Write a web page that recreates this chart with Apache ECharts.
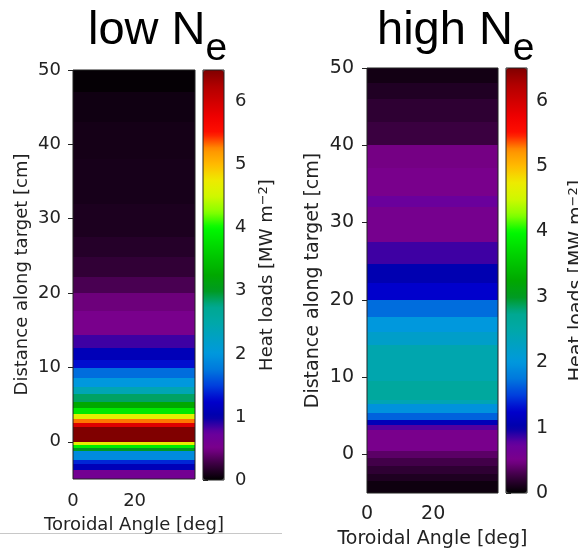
<!DOCTYPE html>
<html>
<head>
<meta charset="utf-8">
<script src="https://cdn.jsdelivr.net/npm/echarts@6/dist/echarts.min.js"></script>
<style>
  html, body { margin: 0; padding: 0; background: #fff; }
  #chart { width: 578px; height: 549px; }
</style>
</head>
<body>
<div id="chart"></div>
<script>
// toroidal angle bins [deg]
const angleEdges = [0, 39.6];

// low Ne: row edges along target [cm] (top -> bottom) and heat load per row [MW m^-2]
const lowEdges = [50, 47, 43, 38, 32, 27.6, 24.8, 22.2, 20, 17.6, 14.4, 12.6, 11.0, 9.9, 8.6, 7.4, 6.4, 5.4, 4.6, 3.8, 3.1, 2.5, 2.0, 0.0, -0.4, -0.8, -1.2, -2.4, -3.0, -3.8, -5];
const lowLoads = [0.02, 0.07, 0.09, 0.10, 0.12, 0.16, 0.21, 0.31, 0.45, 0.52, 0.85, 1.1, 1.3, 1.7, 2.0, 2.4, 2.85, 3.25, 3.85, 4.65, 5.3, 5.9, 6.5, 4.7, 3.9, 3.0, 1.9, 1.4, 1.1, 0.6];

// high Ne
const highEdges = [50, 48, 46, 43, 40, 37, 33.5, 32, 27.5, 24.6, 22.2, 20, 17.8, 15.9, 14.2, 9.5, 7.0, 6.5, 5.3, 4.5, 3.8, 3.2, 0.4, -0.5, -1.5, -2.5, -3.5, -5];
const highLoads = [0.08, 0.14, 0.2, 0.25, 0.48, 0.52, 0.72, 0.55, 0.85, 1.05, 1.25, 1.7, 2.0, 2.2, 2.45, 2.6, 2.4, 1.95, 1.65, 1.1, 0.8, 0.52, 0.38, 0.28, 0.2, 0.13, 0.06];

const distTicks = [0, 10, 20, 30, 40, 50];
const angleTicks = [0, 20];
const loadTicks = [0, 1, 2, 3, 4, 5, 6];

// colormap, evenly spaced from 0 to 6.5
const cmap = ['#000000', '#3a0040', '#7a008a', '#68009e', '#0000aa', '#0000cc', '#0040dd', '#0078dd',
  '#0098dd', '#00a0c4', '#00a8a8', '#00a890', '#009a20', '#00a800', '#00c200', '#00dd00', '#00fa00',
  '#88ff00', '#d0f800', '#eeea00', '#ffbb00', '#ff9000', '#ff1000', '#f00000', '#d00000', '#b00000', '#800000'];

function buildCells(edges, loads) {
  const cells = [];
  for (let i = 0; i < loads.length; i++) {
    for (let j = 0; j < angleEdges.length - 1; j++) {
      cells.push([angleEdges[j], angleEdges[j + 1], edges[i + 1], edges[i], loads[i]]);
    }
  }
  return cells;
}

function renderCell(params, api) {
  const p0 = api.coord([api.value(0), api.value(3)]);
  const p1 = api.coord([api.value(1), api.value(2)]);
  const x0 = Math.round(p0[0]), y0 = Math.round(p0[1]);
  const x1 = Math.round(p1[0]), y1 = Math.round(p1[1]);
  return {
    type: 'rect',
    shape: { x: x0, y: y0, width: x1 - x0, height: y1 - y0 },
    style: { fill: api.visual('color') }
  };
}

const font = 'DejaVu Sans';
const ink = '#222';

function plotX(gi, size, margin, gap) {
  return {
    gridIndex: gi, type: 'value', min: 0, max: angleEdges[angleEdges.length - 1],
    name: 'Toroidal Angle [deg]', nameLocation: 'middle', nameGap: gap,
    nameTextStyle: { fontFamily: font, fontSize: size, color: ink },
    axisLine: { show: false },
    axisTick: { show: true, inside: false, length: 5, customValues: angleTicks, lineStyle: { color: ink } },
    axisLabel: { customValues: angleTicks, margin: margin, fontFamily: font, fontSize: size, color: ink },
    splitLine: { show: false }
  };
}
function plotY(gi, size, margin, gap) {
  return {
    gridIndex: gi, type: 'value', min: -5, max: 50,
    name: 'Distance along target [cm]', nameLocation: 'middle', nameGap: gap, nameRotate: 90,
    nameTextStyle: { fontFamily: font, fontSize: size, color: ink },
    axisLine: { show: false },
    axisTick: { show: true, inside: false, length: 5, customValues: distTicks, lineStyle: { color: ink } },
    axisLabel: { customValues: distTicks, margin: margin, fontFamily: font, fontSize: size, color: ink },
    splitLine: { show: false }
  };
}
function barX(gi) {
  return { gridIndex: gi, type: 'value', min: 0, max: 1, show: false };
}
function barY(gi, size, margin, gap) {
  return {
    gridIndex: gi, type: 'value', min: 0, max: 6.5, position: 'right',
    name: 'Heat loads [MW m{sup|\u22122}]', nameLocation: 'middle', nameGap: gap, nameRotate: 90,
    nameTextStyle: {
      fontFamily: font, fontSize: size, color: ink,
      rich: { sup: { fontFamily: font, fontSize: Math.round(size * 0.7), color: ink, verticalAlign: 'top', padding: [0, 0, 7, 0] } }
    },
    axisLine: { show: false },
    axisTick: { show: true, inside: false, length: 5, customValues: loadTicks, lineStyle: { color: ink } },
    axisLabel: { customValues: loadTicks, margin: margin, fontFamily: font, fontSize: size, color: ink },
    splitLine: { show: false }
  };
}

const titleRich = {
  m: { fontFamily: 'Liberation Sans', fontSize: 47, fontWeight: 'normal', color: '#000', verticalAlign: 'top' },
  s: { fontFamily: 'Liberation Sans', fontSize: 39, fontWeight: 'normal', color: '#000', verticalAlign: 'top', padding: [22, 0, 0, 0] }
};

const frame = { show: true, borderColor: ink, borderWidth: 1, backgroundColor: 'transparent', z: 5, outerBoundsMode: 'none' };

const option = {
  animation: false,
  title: [
    { text: '{m|low N}{s|e}', left: 88, top: 8, padding: 0, textStyle: { fontWeight: 'normal', rich: titleRich } },
    { text: '{m|high N}{s|e}', left: 377, top: 8, padding: 0, textStyle: { fontWeight: 'normal', rich: titleRich } }
  ],
  grid: [
    Object.assign({ left: 73, top: 70, width: 122, height: 409 }, frame),
    Object.assign({ left: 367, top: 68, width: 131, height: 425 }, frame),
    Object.assign({ left: 203, top: 70, width: 21, height: 410 }, frame),
    Object.assign({ left: 506, top: 68, width: 21, height: 425 }, frame)
  ],
  xAxis: [plotX(0, 18, 13, 37), plotX(1, 19, 12, 37), barX(2), barX(3)],
  yAxis: [plotY(0, 18, 12, 42), plotY(1, 19, 13, 44), barY(2, 18, 11, 33), barY(3, 19, 9, 40)],
  visualMap: [
    { type: 'continuous', min: 0, max: 6.5, seriesIndex: 0, dimension: 4, inRange: { color: cmap },
      calculable: false, left: 203, top: 70, itemWidth: 21, itemHeight: 410, padding: 0, text: null, hoverLink: false },
    { type: 'continuous', min: 0, max: 6.5, seriesIndex: 1, dimension: 4, inRange: { color: cmap },
      calculable: false, left: 506, top: 68, itemWidth: 21, itemHeight: 425, padding: 0, text: null, hoverLink: false }
  ],
  graphic: [
    { type: 'line', shape: { x1: 0, y1: 533.5, x2: 282, y2: 533.5 }, style: { stroke: '#c8c8c8', lineWidth: 1 } }
  ],
  series: [
    { type: 'custom', xAxisIndex: 0, yAxisIndex: 0, renderItem: renderCell, encode: { x: [0, 1], y: [2, 3] },
      data: buildCells(lowEdges, lowLoads), silent: true },
    { type: 'custom', xAxisIndex: 1, yAxisIndex: 1, renderItem: renderCell, encode: { x: [0, 1], y: [2, 3] },
      data: buildCells(highEdges, highLoads), silent: true }
  ]
};

const myChart = echarts.init(document.getElementById('chart'), null, { renderer: 'canvas' });
myChart.setOption(option);
</script>
</body>
</html>
